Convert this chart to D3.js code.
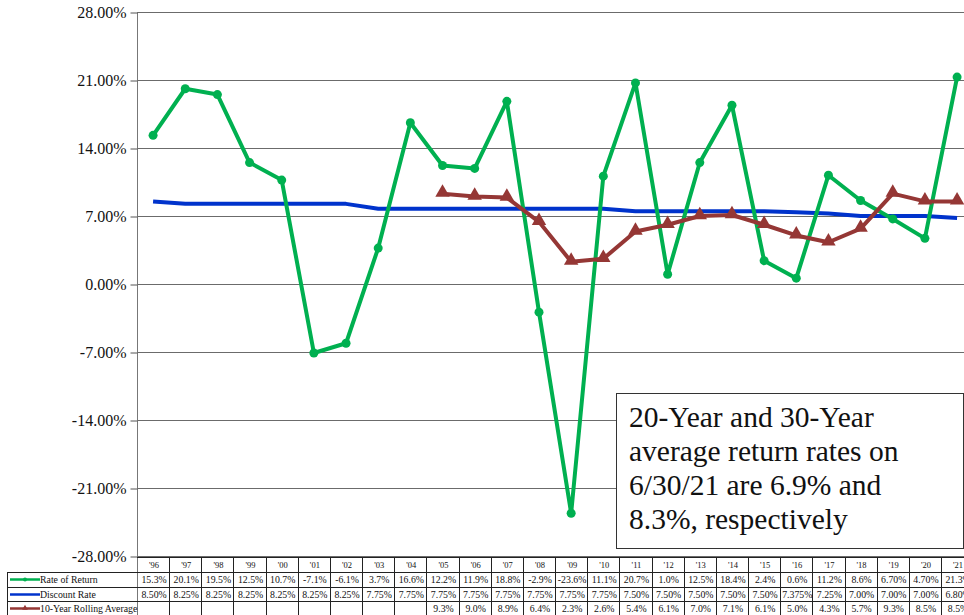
<!DOCTYPE html>
<html>
<head>
<meta charset="utf-8">
<script src="https://cdn.jsdelivr.net/npm/d3@7"></script>
<style>
  body { margin: 0; background: #fff; }
  svg { display: block; font-family: "Liberation Serif", "Times New Roman", serif; }
</style>
</head>
<body>
<div id="chart"></div>
<script>
var years = ["'96","'97","'98","'99","'00","'01","'02","'03","'04","'05","'06","'07","'08","'09","'10","'11","'12","'13","'14","'15","'16","'17","'18","'19","'20","'21"];
var rateOfReturn = [15.3, 20.1, 19.5, 12.5, 10.7, -7.1, -6.1, 3.7, 16.6, 12.2, 11.9, 18.8, -2.9, -23.6, 11.1, 20.7, 1.0, 12.5, 18.4, 2.4, 0.6, 11.2, 8.6, 6.70, 4.70, 21.3];
var rateLabels = ["15.3%","20.1%","19.5%","12.5%","10.7%","-7.1%","-6.1%","3.7%","16.6%","12.2%","11.9%","18.8%","-2.9%","-23.6%","11.1%","20.7%","1.0%","12.5%","18.4%","2.4%","0.6%","11.2%","8.6%","6.70%","4.70%","21.3%"];
var discountRate = [8.50, 8.25, 8.25, 8.25, 8.25, 8.25, 8.25, 7.75, 7.75, 7.75, 7.75, 7.75, 7.75, 7.75, 7.75, 7.50, 7.50, 7.50, 7.50, 7.50, 7.375, 7.25, 7.00, 7.00, 7.00, 6.80];
var discountLabels = ["8.50%","8.25%","8.25%","8.25%","8.25%","8.25%","8.25%","7.75%","7.75%","7.75%","7.75%","7.75%","7.75%","7.75%","7.75%","7.50%","7.50%","7.50%","7.50%","7.50%","7.375%","7.25%","7.00%","7.00%","7.00%","6.80%"];
var rollingAvg = [null, null, null, null, null, null, null, null, null, 9.3, 9.0, 8.9, 6.4, 2.3, 2.6, 5.4, 6.1, 7.0, 7.1, 6.1, 5.0, 4.3, 5.7, 9.3, 8.5, 8.5];
var yTicks = [-28, -21, -14, -7, 0, 7, 14, 21, 28];
var seriesNames = ["Rate of Return", "Discount Rate", "10-Year Rolling Average"];
var noteLines = ["20-Year and 30-Year", "average return rates on", "6/30/21 are 6.9% and", "8.3%, respectively"];

(function(){
	var W = 964, H = 615;
	var left = 137, top = 12, bottom = 556;
	var band = 32.16;

	var svg = d3.select("#chart").append("svg")
		.attr("width", W).attr("height", H);

	var x = d3.scaleBand().domain(years).range([left, left + band * years.length]);
	var y = d3.scaleLinear().domain([-28, 28]).range([bottom, top]);
	var cx = function(i){ return x(years[i]) + x.bandwidth() / 2; };

	// gridlines
	svg.append("g").selectAll("line").data(yTicks).enter().append("line")
		.attr("x1", left).attr("x2", W)
		.attr("y1", function(d){ return y(d) + 0.5; })
		.attr("y2", function(d){ return y(d) + 0.5; })
		.attr("stroke", "#6b6b6b").attr("stroke-width", 1);

	// y axis
	var yAxis = d3.axisLeft(y).tickValues(yTicks).tickSize(7).tickPadding(4)
		.tickFormat(function(d){ return d.toFixed(2) + "%"; });
	var ag = svg.append("g").attr("transform", "translate(" + (left + 0.5) + ",0)").call(yAxis);
	ag.attr("font-family", null);
	ag.select(".domain").attr("stroke", "#777").attr("d", "M0," + (top + 0.5) + "V" + (H));
	ag.selectAll(".tick line").attr("stroke", "#555").attr("transform", "translate(0,0.5)");
	ag.selectAll(".tick text").attr("font-family", "Liberation Serif, serif").attr("font-size", 16).attr("fill", "#111");

	// series lines
	var line = d3.line()
		.defined(function(d){ return d != null; })
		.x(function(d, i){ return cx(i); })
		.y(function(d){ return y(d); });

	svg.append("path").datum(discountRate).attr("d", line)
		.attr("fill", "none").attr("stroke", "#0033CC").attr("stroke-width", 4).attr("stroke-linejoin", "round");

	svg.append("path").datum(rateOfReturn).attr("d", line)
		.attr("fill", "none").attr("stroke", "#00B050").attr("stroke-width", 4).attr("stroke-linejoin", "round");
	svg.append("g").selectAll("circle").data(rateOfReturn).enter().append("circle")
		.attr("cx", function(d, i){ return cx(i); })
		.attr("cy", function(d){ return y(d); })
		.attr("r", 4.5).attr("fill", "#00B050");

	svg.append("path").datum(rollingAvg).attr("d", line)
		.attr("fill", "none").attr("stroke", "#953735").attr("stroke-width", 4).attr("stroke-linejoin", "round");
	var tri = d3.symbol().type(d3.symbolTriangle).size(90);
	svg.append("g").selectAll("path").data(rollingAvg.map(function(d, i){ return {v: d, i: i}; }).filter(function(d){ return d.v != null; }))
		.enter().append("path")
		.attr("d", tri)
		.attr("transform", function(d){ return "translate(" + cx(d.i) + "," + (y(d.v) - 1) + ")"; })
		.attr("fill", "#953735");

	// note box
	var box = {x: 616, y: 393, w: 347, h: 155};
	svg.append("rect").attr("x", box.x + 0.5).attr("y", box.y + 0.5).attr("width", box.w).attr("height", box.h)
		.attr("fill", "#fff").attr("stroke", "#333").attr("stroke-width", 1);
	svg.append("g").selectAll("text").data(noteLines).enter().append("text")
		.attr("x", box.x + 13)
		.attr("y", function(d, i){ return 427 + i * 34; })
		.attr("font-size", 29.5).attr("fill", "#111")
		.text(function(d){ return d; });

	// data table
	var rowTop = [557, 572, 587, 601], rowBot = 615;
	var tg = svg.append("g").attr("stroke", "#222").attr("stroke-width", 1);
	var tableRight = left + band * years.length;
	tg.append("line").attr("x1", left).attr("x2", tableRight).attr("y1", rowTop[0] + 0.5).attr("y2", rowTop[0] + 0.5);
	[1, 2, 3].forEach(function(r){
		tg.append("line").attr("x1", 7).attr("x2", tableRight).attr("y1", rowTop[r] + 0.5).attr("y2", rowTop[r] + 0.5);
	});
	tg.append("line").attr("x1", 7.5).attr("x2", 7.5).attr("y1", rowTop[1]).attr("y2", rowBot);
	years.forEach(function(yr){
		var xx = x(yr) + band;
		tg.append("line").attr("x1", Math.round(xx) + 0.5).attr("x2", Math.round(xx) + 0.5).attr("y1", rowTop[0]).attr("y2", rowBot);
	});

	var rows = [years, rateLabels, discountLabels, rollingAvg.map(function(d){ return d == null ? "" : d.toFixed(1) + "%"; })];
	rows.forEach(function(vals, r){
		svg.append("g").selectAll("text").data(vals).enter().append("text")
			.attr("x", function(d, i){ return cx(i) + 1; })
			.attr("y", rowTop[r] + 11)
			.attr("text-anchor", "middle")
			.attr("font-size", r === 0 ? 8.5 : 9.8)
			.attr("fill", "#111")
			.text(function(d){ return d; });
	});

	// legend keys
	var keyColors = ["#00B050", "#0033CC", "#953735"];
	seriesNames.forEach(function(name, k){
		var cy = rowTop[k + 1] + 7.5;
		svg.append("line").attr("x1", 10).attr("x2", 40).attr("y1", cy).attr("y2", cy)
			.attr("stroke", keyColors[k]).attr("stroke-width", 2.5);
		if (k === 0) {
			svg.append("circle").attr("cx", 25).attr("cy", cy).attr("r", 2).attr("fill", keyColors[k]);
		} else if (k === 2) {
			svg.append("path").attr("d", d3.symbol().type(d3.symbolTriangle).size(14))
				.attr("transform", "translate(25," + (cy - 0.5) + ")").attr("fill", keyColors[k]);
		}
		svg.append("text").attr("x", 40).attr("y", cy + 3.5)
			.attr("font-size", 9.8).attr("fill", "#111").text(name);
	});
})();
</script>
</body>
</html>
